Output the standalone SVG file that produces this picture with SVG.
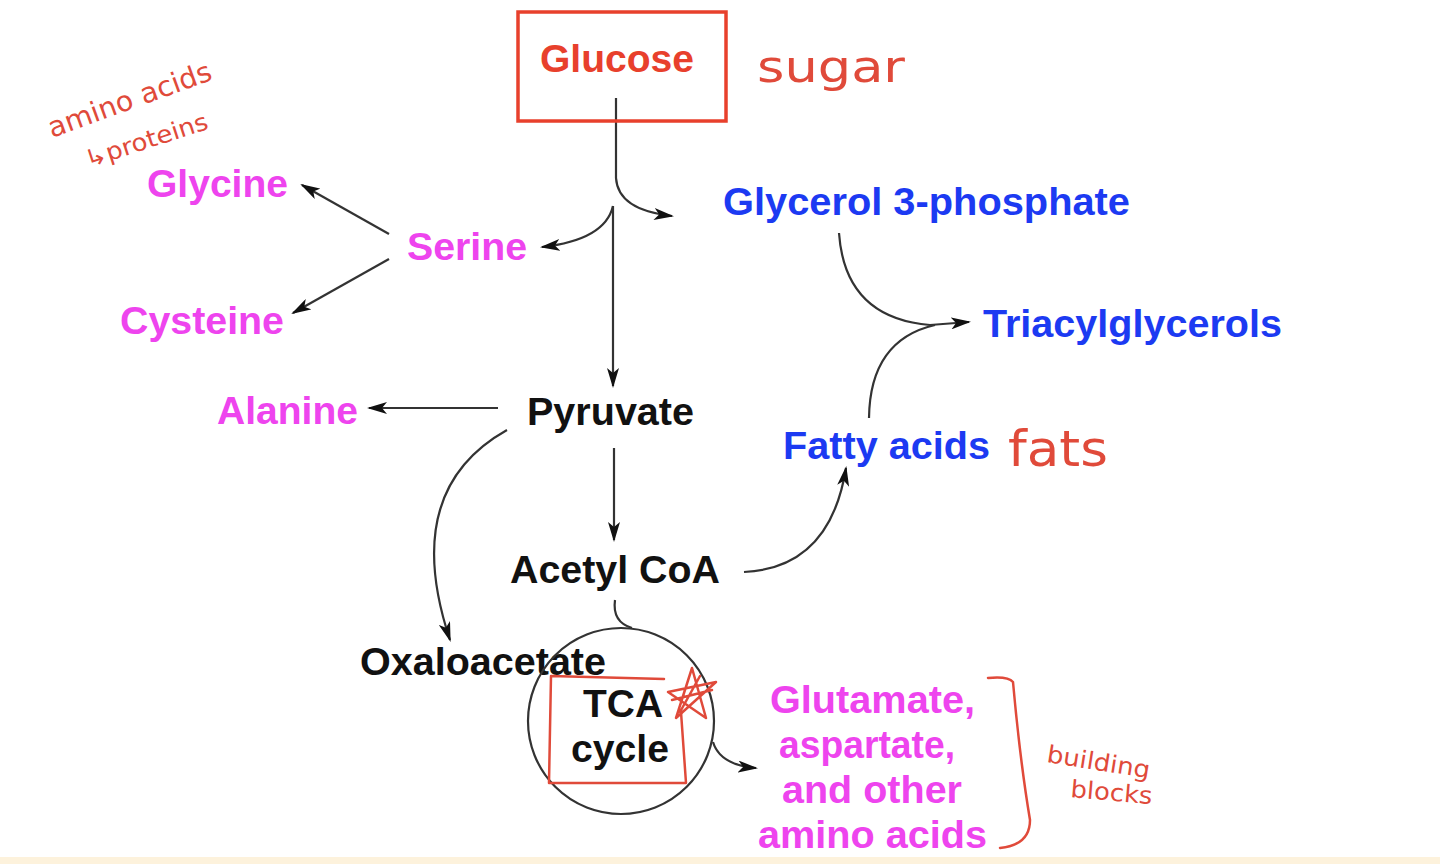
<svg xmlns="http://www.w3.org/2000/svg" width="1440" height="864" viewBox="0 0 1440 864">
<defs>
<marker id="ah" viewBox="0 0 20 12" refX="18" refY="6" markerWidth="20" markerHeight="12" markerUnits="userSpaceOnUse" orient="auto">
<path d="M0,0 L20,6 L0,12 L5,6 Z" fill="#111"/>
</marker>
<style>
.t{font-family:"Liberation Sans",Arial,sans-serif;font-weight:bold;font-size:39px}
.k{fill:#111}.m{fill:#ee44ee}.b{fill:#1c3af2}.r{fill:#e8402c}
.c{fill:none;stroke:#333;stroke-width:2.2}
.hw{font-family:"DejaVu Sans","Liberation Sans",sans-serif;fill:#e04a3a;font-weight:normal}
.rp{fill:none;stroke:#e04a3a;stroke-width:2.5;stroke-linecap:round;stroke-linejoin:round}
</style>
</defs>
<rect x="0" y="0" width="1440" height="864" fill="#ffffff"/>
<rect x="0" y="857" width="1440" height="7" fill="#fdf2dc"/>

<g id="connectors">
<path class="c" d="M616,98 L616,178 Q618,210 672,216" marker-end="url(#ah)"/>
<path class="c" d="M613,206 Q605,240 542,247" marker-end="url(#ah)"/>
<path class="c" d="M613,206 L613,386" marker-end="url(#ah)"/>
<path class="c" d="M389,234 L302,185" marker-end="url(#ah)"/>
<path class="c" d="M389,259 L293,313" marker-end="url(#ah)"/>
<path class="c" d="M498,408 L369,408" marker-end="url(#ah)"/>
<path class="c" d="M507,430 Q400,490 450,640" marker-end="url(#ah)"/>
<path class="c" d="M614,448 L614,540" marker-end="url(#ah)"/>
<path class="c" d="M744,572 Q830,568 846,468" marker-end="url(#ah)"/>
<path class="c" d="M839,233 Q845,318 930,325 L969,322" marker-end="url(#ah)"/>
<path class="c" d="M869,418 Q870,340 935,325"/>
<path class="c" d="M615,600 Q612,622 632,628"/>
<path class="c" d="M713,742 Q720,765 756,768" marker-end="url(#ah)"/>
</g>

<g id="glucose">
<rect x="518" y="12" width="208" height="109" fill="none" stroke="#e8402c" stroke-width="3.5"/>
<text class="t r" x="540" y="72" textLength="154" lengthAdjust="spacingAndGlyphs">Glucose</text>
</g>
<g id="glycine"><text class="t m" x="147" y="197" textLength="141" lengthAdjust="spacingAndGlyphs">Glycine</text></g>
<g id="serine"><text class="t m" x="407" y="260" textLength="120" lengthAdjust="spacingAndGlyphs">Serine</text></g>
<g id="cysteine"><text class="t m" x="120" y="334" textLength="164" lengthAdjust="spacingAndGlyphs">Cysteine</text></g>
<g id="alanine"><text class="t m" x="217" y="424" textLength="141" lengthAdjust="spacingAndGlyphs">Alanine</text></g>
<g id="pyruvate"><text class="t k" x="527" y="425" textLength="167" lengthAdjust="spacingAndGlyphs">Pyruvate</text></g>
<g id="glycerol3p"><text class="t b" x="723" y="215" textLength="407" lengthAdjust="spacingAndGlyphs">Glycerol 3-phosphate</text></g>
<g id="triacylglycerols"><text class="t b" x="983" y="337" textLength="299" lengthAdjust="spacingAndGlyphs">Triacylglycerols</text></g>
<g id="fattyacids"><text class="t b" x="783" y="459" textLength="207" lengthAdjust="spacingAndGlyphs">Fatty acids</text></g>
<g id="acetylcoa"><text class="t k" x="510" y="583" textLength="210" lengthAdjust="spacingAndGlyphs">Acetyl CoA</text></g>
<g id="oxaloacetate"><text class="t k" x="360" y="675" textLength="246" lengthAdjust="spacingAndGlyphs">Oxaloacetate</text></g>
<g id="tca">
<circle cx="621" cy="721" r="93" fill="none" stroke="#333" stroke-width="2.2"/>
<path class="rp" d="M551,676 L664,679 M681,712 L686,783 L549,783 L551,676"/>
<path class="rp" d="M668,692 L716,682 L676,718 L692,668 L706,718 Z M672,700 L712,690 M680,712 L700,676"/>
<text class="t k" x="583" y="717" textLength="80" lengthAdjust="spacingAndGlyphs">TCA</text>
<text class="t k" x="571" y="762" textLength="98" lengthAdjust="spacingAndGlyphs">cycle</text>
</g>
<g id="aminoacids">
<text class="t m" x="770" y="713" textLength="205" lengthAdjust="spacingAndGlyphs">Glutamate,</text>
<text class="t m" x="779" y="758" textLength="176" lengthAdjust="spacingAndGlyphs">aspartate,</text>
<text class="t m" x="782" y="803" textLength="180" lengthAdjust="spacingAndGlyphs">and other</text>
<text class="t m" x="758" y="848" textLength="229" lengthAdjust="spacingAndGlyphs">amino acids</text>
</g>

<g id="annotations">
<text class="hw" x="757" y="82" font-size="44" textLength="148" lengthAdjust="spacingAndGlyphs">sugar</text>
<text class="hw" x="52" y="138" font-size="28" transform="rotate(-20 52 138)" textLength="172" lengthAdjust="spacingAndGlyphs">amino acids</text>
<text class="hw" x="88" y="168" font-size="24" transform="rotate(-18 88 168)" textLength="128" lengthAdjust="spacingAndGlyphs">↳proteins</text>
<text class="hw" x="1008" y="466" font-size="50" textLength="100" lengthAdjust="spacingAndGlyphs">fats</text>
<text class="hw" x="1046" y="762" font-size="24" transform="rotate(9 1046 762)" textLength="104" lengthAdjust="spacingAndGlyphs">building</text>
<text class="hw" x="1070" y="797" font-size="24" transform="rotate(5 1070 797)" textLength="82" lengthAdjust="spacingAndGlyphs">blocks</text>
<path class="rp" d="M988,678 Q1008,676 1013,682 Q1020,760 1030,820 Q1030,845 1000,848"/>
</g>
</svg>
